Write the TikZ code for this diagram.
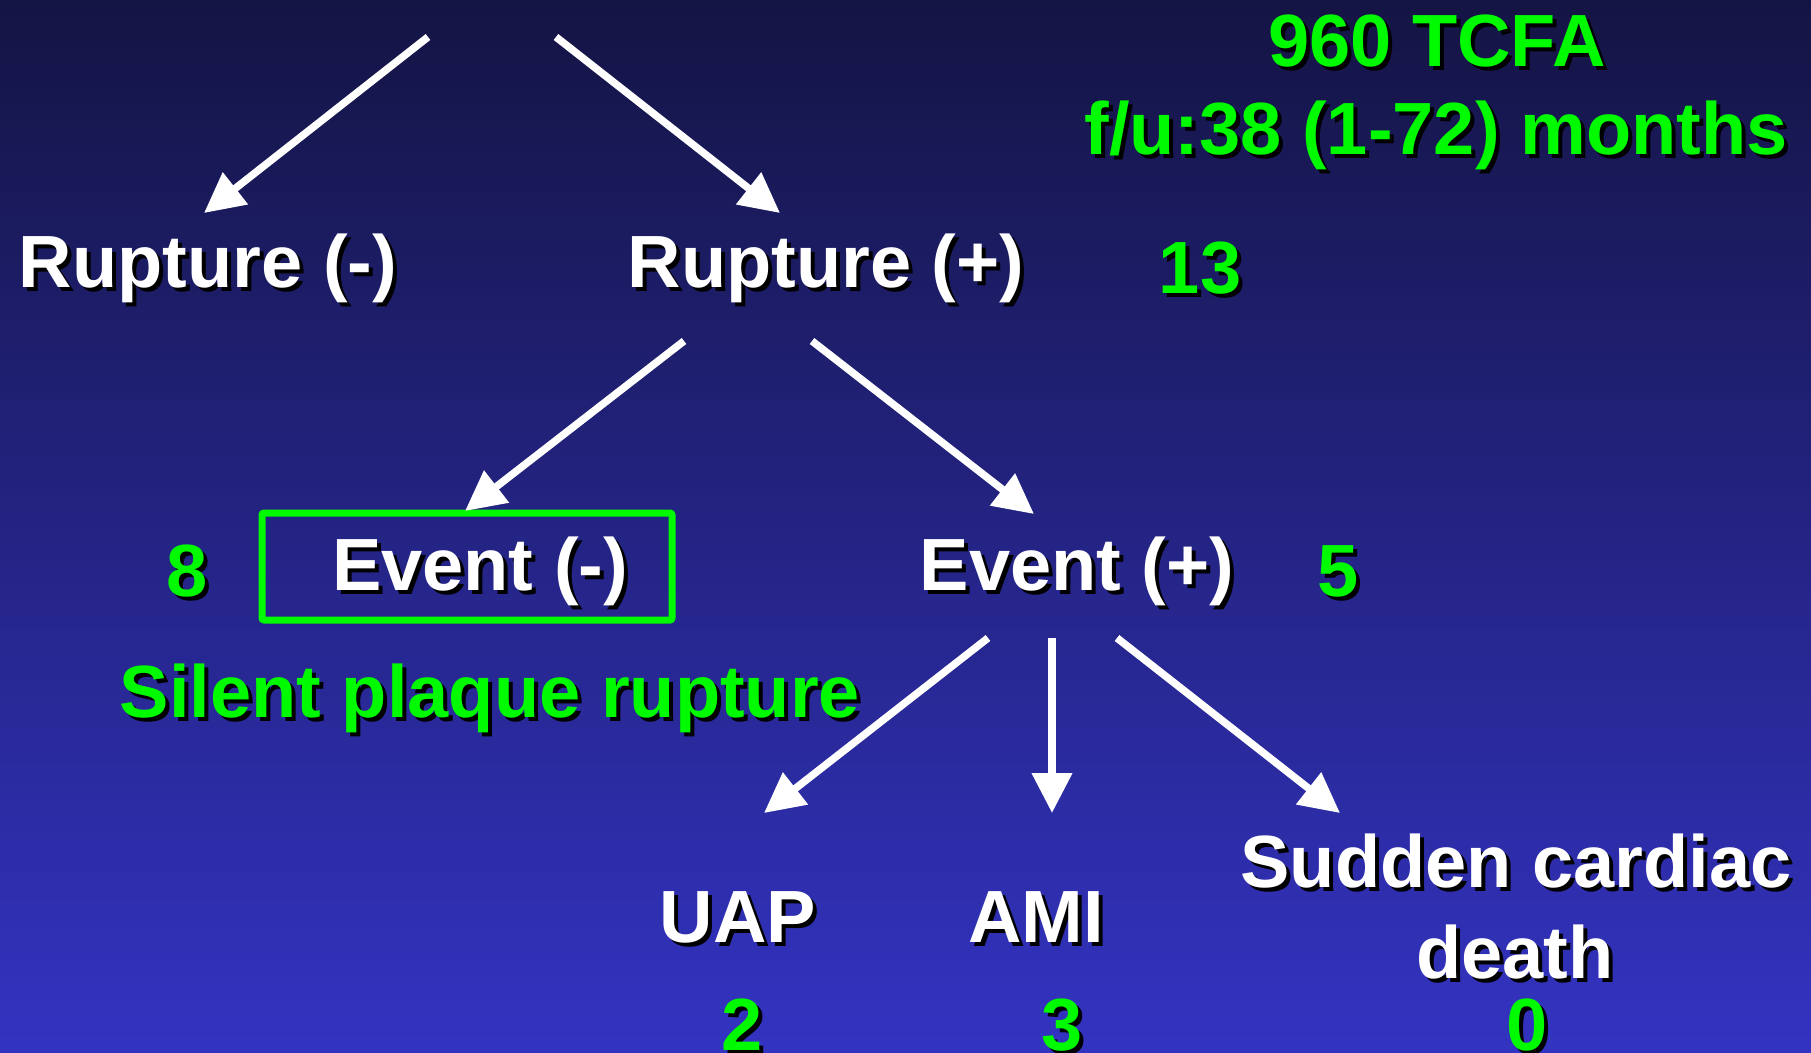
\documentclass[tikz,border=0pt]{standalone}
\usepackage{fontspec}
\setmainfont{Liberation Sans}
\usetikzlibrary{arrows.meta}

\definecolor{bgtop}{RGB}{20,20,68}
\definecolor{bgbot}{RGB}{51,51,194}
\definecolor{lime}{RGB}{0,250,0}

\tikzset{
  lbl/.style={font=\fontsize{74}{80}\selectfont\bfseries, inner sep=0pt, anchor=base},
  arr/.style={draw=white, line width=7.5pt, -{Triangle[length=40pt,width=39pt]}},
  framebox/.style={draw=lime, line width=7pt, rounded corners=2pt, inner sep=0pt}
}

% label with a black drop shadow: name, x, y, colour, text
\newcommand\shlabel[5]{%
  \node[lbl, black] (#1-sh) at (#2+4,#3+4) {#5};
  \node[lbl, #4] (#1) at (#2,#3) {#5};
}

\begin{document}
\begin{tikzpicture}[x=1pt, y=-1pt]
  % background
  \shade[top color=bgtop, bottom color=bgbot] (0,0) rectangle (1811,1052);
  \useasboundingbox (0,0) rectangle (1811,1052);

  % header
  \shlabel{tcfa}{1437}{66}{lime}{960 TCFA}
  \shlabel{fu}{1436}{154}{lime}{f/u:38 (1-72) months}

  % first split
  \shlabel{rneg}{208}{287}{white}{Rupture (-)}
  \shlabel{rpos}{826}{287}{white}{Rupture (+)}
  \shlabel{n13}{1200}{293}{lime}{13}

  % second split
  \node[framebox, minimum width=410pt, minimum height=107pt] (box) at (467,566.5) {};
  \shlabel{eneg}{480}{590}{white}{Event (-)}
  \shlabel{epos}{1077}{590}{white}{Event (+)}
  \shlabel{n8}{187}{596}{lime}{8}
  \shlabel{n5}{1338}{596}{lime}{5}
  \shlabel{silent}{490}{717}{lime}{Silent plaque rupture}

  % outcomes
  \shlabel{uap}{738}{942}{white}{UAP}
  \shlabel{ami}{1036}{942}{white}{AMI}
  \shlabel{scd}{1516}{887}{white}{Sudden cardiac}
  \shlabel{scd2}{1515}{978}{white}{death}
  \shlabel{n2}{742}{1050}{lime}{2}
  \shlabel{n3}{1062}{1050}{lime}{3}
  \shlabel{n0}{1527}{1050}{lime}{0}

  % connector end points
  \coordinate (t-l) at (428,37);   \coordinate (rneg-in) at (204,213);
  \coordinate (t-r) at (556,37);   \coordinate (rpos-in) at (780,213);
  \coordinate (rp-l) at (684,341); \coordinate (eneg-in) at (465,511);
  \coordinate (rp-r) at (812,341); \coordinate (epos-in) at (1034,514);
  \coordinate (ep-l) at (988,638); \coordinate (uap-in) at (764,813);
  \coordinate (ep-m) at (1052,638);\coordinate (ami-in) at (1052,813);
  \coordinate (ep-r) at (1117,638);\coordinate (scd-in) at (1340,813);

  \draw[arr] (t-l) -- (rneg-in);
  \draw[arr] (t-r) -- (rpos-in);
  \draw[arr] (rp-l) -- (eneg-in);
  \draw[arr] (rp-r) -- (epos-in);
  \draw[arr] (ep-l) -- (uap-in);
  \draw[arr] (ep-m) -- (ami-in);
  \draw[arr] (ep-r) -- (scd-in);
\end{tikzpicture}
\end{document}
